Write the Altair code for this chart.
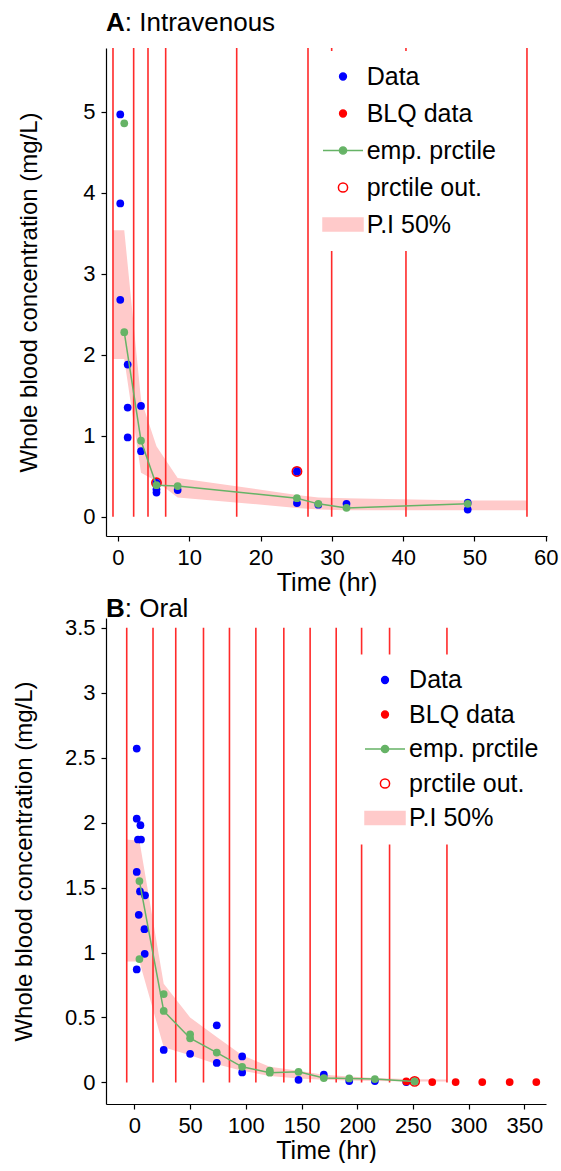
import altair as alt
import pandas as pd

FONT = "Liberation Sans"
BLUE = "#0000ff"
RED = "#ff0000"
RULE_RED = "#ff2a2a"
GREEN = "#66b366"
PINK = "#ffcaca"

# ---------------- Panel A : Intravenous ----------------
a_bin_edges = [-0.70, 2.20, 4.21, 6.69, 16.65, 26.65, 29.97, 40.39, 57.36]
a_rule_top = 5.79
a_obs_time = [0.32, 0.32, 0.32, 1.36, 1.36, 1.36, 3.23, 3.23, 5.4, 5.4, 5.4, 8.37,
              25.1, 25.1, 28.1, 32.05, 49.05, 49.05]
a_obs_conc = [4.97, 3.87, 2.68, 1.88, 1.35, 0.98, 1.37, 0.81, 0.42, 0.34, 0.30, 0.33,
              0.56, 0.17, 0.15, 0.16, 0.175, 0.09]
a_blq_time = []
a_blq_conc = []
a_emp_time = [0.88, 3.23, 5.4, 8.37, 25.1, 28.1, 32.05, 49.05]
a_emp_conc = [2.28, 0.94, 0.39, 0.38, 0.23, 0.16, 0.11, 0.16]
a_emp_extra_time = [0.88]
a_emp_extra_conc = [4.86]
a_out_time = [5.4, 25.1]
a_out_conc = [0.42, 0.56]
a_pi_time = [-0.70, 0.88, 3.23, 5.4, 8.37, 25.1, 28.1, 32.05, 49.05, 57.36]
a_pi_low = [1.95, 1.95, 0.545, 0.44, 0.24, 0.11, 0.09, 0.08, 0.08, 0.08]
a_pi_high = [3.54, 3.54, 1.45, 0.87, 0.48, 0.27, 0.24, 0.23, 0.20, 0.20]
a_x_ticks = [0, 10, 20, 30, 40, 50, 60]
a_y_ticks = [0, 1, 2, 3, 4, 5]

# ---------------- Panel B : Oral ----------------
b_bin_edges = [-6.9, 16.7, 37.1, 62.0, 85.3, 109.0, 134.1, 157.7, 181.1, 203.9, 229.0, 280.5]
b_rule_top = 3.5
b_obs_time = [2.07, 2.07, 5.4, 3.2, 5.9, 2.07, 5.0, 9.5, 3.9, 9.0, 9.25, 2.07,
              26.3, 50.0, 73.9, 73.9, 96.7, 96.7, 147.3, 170.0, 192.8, 215.8, 244.0]
b_obs_conc = [2.57, 2.03, 1.98, 1.87, 1.87, 1.62, 1.47, 1.44, 1.29, 1.18, 0.99, 0.87,
              0.25, 0.22, 0.44, 0.15, 0.20, 0.077, 0.02, 0.06, 0.011, 0.011, 0.003]
b_blq_time = [244.0, 267.3, 288.3, 312.2, 336.8, 360.7]
b_blq_conc = [0.008, 0.003, 0.003, 0.003, 0.003, 0.003]
b_emp_time = [4.5, 26.3, 50.0, 73.9, 96.7, 121.5, 147.3, 170.0, 192.8, 215.8, 251.5]
b_emp_conc = [1.55, 0.55, 0.34, 0.23, 0.12, 0.075, 0.082, 0.034, 0.031, 0.026, 0.008]
b_emp_extra_time = [4.5, 26.3, 50.0, 121.5]
b_emp_extra_conc = [0.95, 0.68, 0.37, 0.09]
b_out_time = [251.5]
b_out_conc = [0.008]
b_pi_time = [-6.9, 4.5, 26.3, 50.0, 73.9, 96.7, 121.5, 147.3, 170.0, 192.8, 215.8, 251.5, 280.5]
b_pi_low = [0.93, 0.93, 0.27, 0.21, 0.14, 0.09, 0.05, 0.03, 0.02, 0.015, 0.012, 0.008, 0.008]
b_pi_high = [1.87, 1.86, 0.76, 0.50, 0.35, 0.21, 0.12, 0.09, 0.06, 0.045, 0.035, 0.025, 0.022]
b_x_ticks = [0, 50, 100, 150, 200, 250, 300, 350]
b_y_ticks = [0, 0.5, 1, 1.5, 2, 2.5, 3, 3.5]

# ---------------- Legend ----------------
legend_items = ["Data", "BLQ data", "emp. prctile", "prctile out.", "P.I 50%"]
legend_fill = [BLUE, RED, GREEN, "white", PINK]
legend_stroke = [BLUE, RED, GREEN, RED, PINK]
DOT = "M-0.85,0A0.85,0.85,0,1,0,0.85,0A0.85,0.85,0,1,0,-0.85,0Z"
LINE_DOT = "M-5,0L5,0M-0.9,0A0.9,0.9,0,1,0,0.9,0A0.9,0.9,0,1,0,-0.9,0Z"
RING = "M-1.15,0A1.15,1.15,0,1,0,1.15,0A1.15,1.15,0,1,0,-1.15,0Z"
RECT = "M-5,-1.6L5,-1.6L5,1.6L-5,1.6Z"
legend_shape = [DOT, DOT, LINE_DOT, RING, RECT]


def panel(letter, name, edges, rule_top, obs_t, obs_c, blq_t, blq_c, emp_t, emp_c,
          ex_t, ex_c, out_t, out_c, pi_t, pi_lo, pi_hi, xdom, ydom, xticks, yticks,
          yfmt, w, h, title_x, title_base, name_dx, leg_x, leg_y, leg_pad, leg_row,
          sym_off, lab_off):
    xs = alt.Scale(domain=xdom, nice=False, zero=False)
    ys = alt.Scale(domain=ydom, nice=False, zero=False)
    xa = alt.Axis(values=xticks, title="Time (hr)", format="d", titleFontSize=25)
    ya = alt.Axis(values=yticks, title="Whole blood concentration (mg/L)", format=yfmt,
                  titleX=title_x, titleBaseline="middle")

    def X(f="t"):
        return alt.X(f"{f}:Q", scale=xs, axis=xa)

    def Y(f="c"):
        return alt.Y(f"{f}:Q", scale=ys, axis=ya)

    band = alt.Chart(pd.DataFrame({"t": pi_t, "lo": pi_lo, "hi": pi_hi})).mark_area(
        color=PINK, opacity=1).encode(x=X(), y=Y("lo"), y2="hi:Q")
    rules = alt.Chart(pd.DataFrame({"t": edges, "y0": [0.0] * len(edges),
                                    "y1": [rule_top] * len(edges)})).mark_rule(
        color=RULE_RED, strokeWidth=1.6).encode(x=X(), y=Y("y0"), y2="y1:Q")
    rings = alt.Chart(pd.DataFrame({"t": out_t, "c": out_c})).mark_point(
        shape="circle", filled=False, color=RED, size=85, strokeWidth=1.7, opacity=1
    ).encode(x=X(), y=Y())
    obs = alt.Chart(pd.DataFrame({"t": obs_t, "c": obs_c})).mark_circle(
        color=BLUE, size=60, opacity=1).encode(x=X(), y=Y())
    layers = [band, rules, rings, obs]
    if blq_t:
        blq = alt.Chart(pd.DataFrame({"t": blq_t, "c": blq_c})).mark_circle(
            color=RED, size=60, opacity=1).encode(x=X(), y=Y())
        layers.append(blq)
    emp_df = pd.DataFrame({"t": emp_t, "c": emp_c})
    line = alt.Chart(emp_df).mark_line(color=GREEN, strokeWidth=1.5).encode(x=X(), y=Y())
    emp_pts = alt.Chart(emp_df).mark_circle(color=GREEN, size=60, opacity=1).encode(x=X(), y=Y())
    ex_pts = alt.Chart(pd.DataFrame({"t": ex_t, "c": ex_c})).mark_circle(
        color=GREEN, size=60, opacity=1).encode(x=X(), y=Y())
    layers += [line, emp_pts, ex_pts]

    leg = alt.Legend(title=None, orient="none", legendX=leg_x, legendY=leg_y,
                     fillColor="white", padding=leg_pad, rowPadding=leg_row,
                     labelFontSize=25, labelFont=FONT, labelColor="black",
                     symbolSize=64, symbolStrokeWidth=1.5, symbolOffset=sym_off,
                     labelOffset=lab_off, labelLimit=300)
    leg_df = pd.DataFrame({"item": legend_items, "t": [1e6] * 5, "c": [1e6] * 5})
    dummy = alt.Chart(leg_df).mark_point(filled=True, clip=True, opacity=1, strokeWidth=1.5).encode(
        x=X(), y=Y(),
        fill=alt.Fill("item:N", scale=alt.Scale(domain=legend_items, range=legend_fill), legend=leg),
        stroke=alt.Stroke("item:N", scale=alt.Scale(domain=legend_items, range=legend_stroke), legend=leg),
        shape=alt.Shape("item:N", scale=alt.Scale(domain=legend_items, range=legend_shape), legend=leg),
    )
    layers.append(dummy)

    t1 = alt.Chart(pd.DataFrame({"s": [letter]})).mark_text(
        align="left", baseline="alphabetic", fontSize=26, fontWeight="bold", font=FONT,
        color="black").encode(x=alt.value(0), y=alt.value(title_base), text="s:N")
    t2 = alt.Chart(pd.DataFrame({"s": [name]})).mark_text(
        align="left", baseline="alphabetic", fontSize=26, font=FONT,
        color="black").encode(x=alt.value(name_dx), y=alt.value(title_base), text="s:N")
    layers += [t1, t2]
    return alt.layer(*layers).properties(width=w, height=h)


pa = panel("A", ": Intravenous", a_bin_edges, a_rule_top, a_obs_time, a_obs_conc,
           a_blq_time, a_blq_conc, a_emp_time, a_emp_conc, a_emp_extra_time, a_emp_extra_conc,
           a_out_time, a_out_conc, a_pi_time, a_pi_low, a_pi_high,
           [-1.68, 60.17], [-0.237, 5.79], a_x_ticks, a_y_ticks, "d", 441, 488,
           -76.3, -17.5, 18.8, 203, 3, 13, 11, 8.5, 11.2)
pb = panel("B", ": Oral", b_bin_edges, b_rule_top, b_obs_time, b_obs_conc,
           b_blq_time, b_blq_conc, b_emp_time, b_emp_conc, b_emp_extra_time, b_emp_extra_conc,
           b_out_time, b_out_conc, b_pi_time, b_pi_low, b_pi_high,
           [-25.5, 369.4], [-0.166, 3.575], b_x_ticks, b_y_ticks, "~g", 440, 486,
           -81.7, -1.5, 18.8, 246, 36.5, 13, 8.5, 7.5, 11.6)

chart = alt.vconcat(pa, pb, spacing=0).resolve_scale(
    fill="independent", stroke="independent", shape="independent"
).properties(
    padding={"left": 12, "top": 9, "right": 0, "bottom": 0}
).configure(background="white").configure_view(stroke=None).configure_axis(
    domainColor="black", tickColor="black", labelColor="black", titleColor="black",
    labelFont=FONT, titleFont=FONT, labelFontSize=22, titleFontSize=24,
    titleFontWeight="normal", grid=False, tickSize=5, labelPadding=6, titlePadding=2,
    domainWidth=1.2, tickWidth=1.2
)

chart.save("out.html", embed_options={"renderer": "svg", "actions": False})
